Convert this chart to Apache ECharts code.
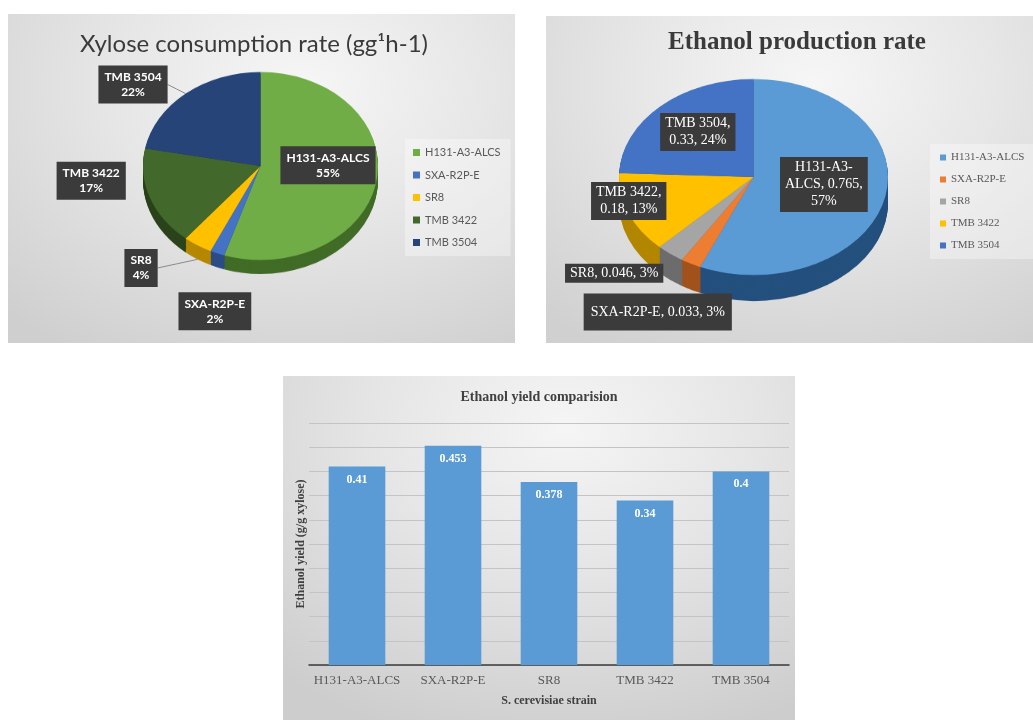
<!DOCTYPE html>
<html><head><meta charset="utf-8">
<script src="https://cdn.jsdelivr.net/npm/echarts@6/dist/echarts.min.js"></script>
<style>
html,body{margin:0;padding:0;width:1033px;height:720px;overflow:hidden;background:#fff;}
.panel{position:absolute;}
#bgA{left:8px;top:14px;width:507px;height:329px;background:radial-gradient(ellipse 85% 95% at 58% 22%,#f6f6f6 0%,#e6e6e6 45%,#cfcfcf 100%);}
#bgB{left:546px;top:16px;width:487px;height:327px;background:radial-gradient(ellipse 85% 95% at 55% 20%,#f6f6f6 0%,#e6e6e6 45%,#d0d0d0 100%);}
#bgC{left:283px;top:376px;width:512px;height:344px;background:radial-gradient(ellipse 85% 95% at 55% 15%,#f5f5f5 0%,#e5e5e5 45%,#cdcdcd 100%);}
.layer{position:absolute;left:0;top:0;width:1033px;height:720px;}
</style></head><body>
<div class="panel" id="bgA"></div>
<div class="panel" id="bgB"></div>
<div class="panel" id="bgC"></div>
<div class="layer" id="pieA"></div>
<div class="layer" id="pieB"></div>
<div class="layer" id="main"></div>
<script>
// ---------- data ----------
const strains = ['H131-A3-ALCS', 'SXA-R2P-E', 'SR8', 'TMB 3422', 'TMB 3504'];
const xyloseShare = [55, 2, 4, 17, 22];            // % of xylose consumption rate
const ethanolRate = [0.765, 0.033, 0.046, 0.18, 0.33];
const ethanolYield = [0.41, 0.453, 0.378, 0.34, 0.4];
const yieldMin = 0, yieldMax = 0.5, yieldStep = 0.05;

// ---------- styles ----------
const xyloseTop  = ['#70AD47', '#4472C4', '#FFC000', '#43682B', '#264478'];
const xyloseSide = ['#416C27', '#2B4C86', '#B58800', '#2A431A', '#172B4D'];
const ethTop  = ['#5B9BD5', '#ED7D31', '#A5A5A5', '#FFC000', '#4472C4'];
const ethSide = ['#24507E', '#A2521C', '#6C6C6C', '#B38600', '#2B4C86'];

const geoA = {cx: 260.5, cy: 166, rx: 117.5, ry: 94, depth: 14};
const geoB = {cx: 753.5, cy: 177, rx: 134.5, ry: 98, depth: 26};

// label placement (style): position type + nudge from anchor
const posA = ['inside', 'inside', 'outside', 'inside', 'outside'];
const nudgeA = [[6.5, -8.4], [-22.9, 99.3], [-56.5, 22.6], [-111.2, -1.9], [-52.6, -9.1]];
const posB = ['inside', 'inside', 'inside', 'inside', 'inside'];
const nudgeB = [[1.6, -3], [-63, 89.6], [-95.8, 56], [-59.5, 5], [-7, -8]];
const wrapB = [82, 1000, 1000, 75, 82];
const padB = [[2, 5], [10, 7], [1, 5], [2, 5], [2, 5]];

const SERIF = '"Liberation Serif", "Times New Roman", serif';
const SANS = 'Lato, "Open Sans", sans-serif';

// ---------- solid (3D-looking) elliptical pies ----------
function pieLayer(geo, cy, values, colors) {
  return {
    type: 'pie', silent: true, center: [geo.cx, cy], radius: [0, geo.rx],
    startAngle: 90, clockwise: true, label: {show: false}, labelLine: {show: false},
    emphasis: {disabled: true}, itemStyle: {borderWidth: 0},
    data: values.map((v, i) => ({name: strains[i], value: v, itemStyle: {color: colors[i]}}))
  };
}
function drawSolid(id, geo, values, top, side) {
  const el = document.getElementById(id);
  const s = geo.ry / geo.rx;
  el.style.transformOrigin = '0px ' + geo.cy + 'px';
  el.style.transform = 'scaleY(' + s + ')';
  const chart = echarts.init(el, null, {renderer: 'canvas'});
  const depthPre = geo.depth / s;
  const n = Math.ceil(depthPre / 1.2);
  const series = [];
  for (let k = n; k >= 1; k--) series.push(pieLayer(geo, geo.cy + depthPre * k / n, values, side));
  series.push(pieLayer(geo, geo.cy, values, top));
  chart.setOption({animation: false, series: series});
}
drawSolid('pieA', geoA, xyloseShare, xyloseTop, xyloseSide);
drawSolid('pieB', geoB, ethanolRate, ethTop, ethSide);

// ---------- labels: library pie layout squashed onto the ellipse ----------
function squashLayout(geo, nudges) {
  const s = geo.ry / geo.rx;
  const sq = y => geo.cy + (y - geo.cy) * s;
  return function (p) {
    const o = nudges[p.dataIndex] || [0, 0];
    const r = p.labelRect;
    const pts = p.labelLinePoints;
    let bx, by;
    if (pts && pts.length) { bx = pts[0][0]; by = sq(pts[0][1]); }
    else { bx = r.x + r.width / 2; by = sq(r.y + r.height / 2); }
    const x = bx + o[0], y = by + o[1];
    const res = {x: x, y: y, align: 'center', verticalAlign: 'middle'};
    if (pts && pts.length) {
      const sy = by + (by > geo.cy ? geo.depth : 0);
      const ex = x > bx ? x - r.width / 2 : x + r.width / 2;
      res.labelLinePoints = [[bx, sy], [(bx + ex) / 2, (sy + y) / 2], [ex, y]];
    }
    return res;
  };
}

const mctx = document.createElement('canvas').getContext('2d');
function wrapText(str, font, maxW) {
  mctx.font = font;
  const parts = str.match(/[^ -]+-?|-| /g) || [];
  const lines = []; let line = '';
  for (const t of parts) {
    const cand = line + t;
    if (line && t !== ' ' && mctx.measureText(cand.trimEnd()).width > maxW) {
      lines.push(line.trimEnd()); line = t;
    } else line = cand;
  }
  if (line) lines.push(line.trimEnd());
  return lines.join('\n');
}

const main = echarts.init(document.getElementById('main'));
main.setOption({
  animation: false,
  title: [
    {text: 'Xylose consumption rate (gg\u00B9h-1)', left: 254, top: 32, textAlign: 'center', padding: 0,
     textStyle: {fontFamily: SANS, fontSize: 24, fontWeight: 'normal', color: '#3a3a3a'}},
    {text: 'Ethanol production rate', left: 797, top: 30, textAlign: 'center', padding: 0,
     textStyle: {fontFamily: SERIF, fontSize: 25, fontWeight: 'bold', color: '#3a3a3a'}},
    {text: 'Ethanol yield comparision', left: 539, top: 390, textAlign: 'center', padding: 0,
     textStyle: {fontFamily: SERIF, fontSize: 14, fontWeight: 'bold', color: '#404040'}}
  ],
  legend: [
    {orient: 'vertical', left: 405, top: 139, padding: [8, 10, 8, 8], itemWidth: 7, itemHeight: 7, itemGap: 11.5,
     icon: 'rect', selectedMode: false, backgroundColor: 'rgba(255,255,255,0.35)',
     textStyle: {fontFamily: SANS, fontSize: 11, color: '#595959'},
     data: strains.map((n, i) => ({name: n, itemStyle: {color: xyloseTop[i], opacity: 1}}))},
    {orient: 'vertical', left: 930, top: 144, padding: [8, 10, 8, 10], itemWidth: 6, itemHeight: 6, itemGap: 11,
     icon: 'rect', selectedMode: false, backgroundColor: 'rgba(255,255,255,0.35)',
     textStyle: {fontFamily: SERIF, fontSize: 11, color: '#595959'},
     data: strains.map((n, i) => ({name: n, itemStyle: {color: ethTop[i], opacity: 1}}))}
  ],
  grid: {left: 309, right: 244, top: 423, bottom: 55},
  xAxis: {
    type: 'category', data: strains,
    axisTick: {show: false},
    axisLine: {lineStyle: {color: '#3a3a3a', width: 1.5}},
    axisLabel: {interval: 0, margin: 9, color: '#595959', fontFamily: SERIF, fontSize: 13},
    name: 'S. cerevisiae strain', nameLocation: 'middle', nameGap: 30,
    nameTextStyle: {fontFamily: SERIF, fontWeight: 'bold', fontSize: 12, color: '#404040'}
  },
  yAxis: {
    type: 'value', min: yieldMin, max: yieldMax, interval: yieldStep,
    axisLabel: {show: false}, axisLine: {show: false}, axisTick: {show: false},
    splitLine: {lineStyle: {color: '#c4c4c4', width: 1}},
    name: 'Ethanol yield (g/g xylose)', nameLocation: 'middle', nameGap: 2,
    nameTextStyle: {fontFamily: SERIF, fontWeight: 'bold', fontSize: 12, color: '#404040'}
  },
  series: [
    {
      type: 'pie', center: [geoA.cx, geoA.cy], radius: [0, geoA.rx], startAngle: 90, clockwise: true,
      silent: true, avoidLabelOverlap: false, emphasis: {disabled: true}, legendHoverLink: false,
      label: {show: true, formatter: '{b}\n{d}%', color: '#fff', fontFamily: SANS, fontWeight: 'bold',
              fontSize: 12, lineHeight: 15, backgroundColor: '#3b3b3b', padding: [4, 6], align: 'center',
              distanceToLabelLine: 0},
      labelLine: {show: true, length: 15, length2: 10, lineStyle: {color: '#8a8a8a', width: 1}},
      labelLayout: squashLayout(geoA, nudgeA),
      data: xyloseShare.map((v, i) => ({
        name: strains[i], value: v, itemStyle: {color: 'rgba(0,0,0,0)'},
        label: {position: posA[i]}, labelLine: {show: posA[i] === 'outside'}
      }))
    },
    {
      type: 'pie', center: [geoB.cx, geoB.cy], radius: [0, geoB.rx], startAngle: 90, clockwise: true,
      silent: true, avoidLabelOverlap: false, emphasis: {disabled: true}, legendHoverLink: false,
      percentPrecision: 0,
      label: {show: true, color: '#fff', fontFamily: SERIF, fontWeight: 'normal',
              fontSize: 14, lineHeight: 17, backgroundColor: '#3b3b3b', align: 'center',
              formatter: p => wrapText(p.name + ', ' + p.value + ', ' + p.percent + '%', '14px ' + SERIF, wrapB[p.dataIndex])},
      labelLine: {show: false},
      labelLayout: squashLayout(geoB, nudgeB),
      data: ethanolRate.map((v, i) => ({
        name: strains[i], value: v, itemStyle: {color: 'rgba(0,0,0,0)'},
        label: {position: posB[i], padding: padB[i]}
      }))
    },
    {
      type: 'bar', data: ethanolYield, barCategoryGap: '41%',
      itemStyle: {color: '#5B9BD5'},
      label: {show: true, position: 'insideTop', distance: 7, color: '#fff',
              fontFamily: SERIF, fontWeight: 'bold', fontSize: 12}
    }
  ]
});
</script>
</body></html>
